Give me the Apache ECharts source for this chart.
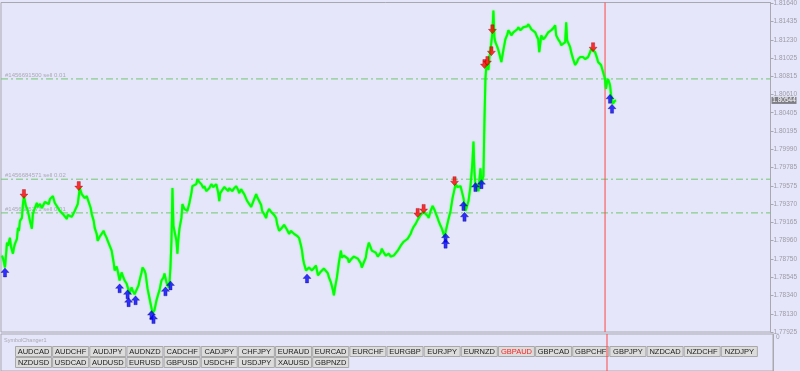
<!DOCTYPE html>
<html><head><meta charset="utf-8">
<script src="https://cdn.jsdelivr.net/npm/echarts@6/dist/echarts.min.js"></script>
<style>html,body{margin:0;padding:0;background:#E6E6FA;overflow:hidden}#c{width:800px;height:371px}</style>
</head><body><div id="c"></div>
<script>
// ---- data ----
const barIndex = [2,3,4,5,6,7,8,10,11,13,14,15,17,18,19,20,22,23,24,25,26,28,30,32,33,35,37,38,40,42,43,45,47,49,50,52,53,55,57,60,62,63,65,67,68,70,72,73,75,77,78,79,80,82,83,85,87,88,89,91,92,94,95,97,98,100,102,104,105,107,108,110,112,114,115,117,118,120,122,123,125,127,129,130,132,133,135,137,139,140,142,143,145,146,148,150,151,153,155,157,159,160,162,164,165,167,169,170,171,172,173,174,175,177,178,179,180,182,183,185,187,188,190,192,193,195,197,198,200,202,204,205,207,208,210,212,214,215,217,218,219,220,221,223,225,227,229,230,232,233,235,237,239,240,242,243,245,247,248,250,252,253,255,257,258,260,262,263,265,267,268,270,272,273,275,277,278,280,282,283,285,287,288,290,292,293,295,297,298,300,302,303,304,305,307,308,310,312,313,315,317,319,320,322,323,325,327,329,330,332,333,334,335,336,338,340,342,343,345,347,349,350,352,353,355,357,359,360,362,363,365,367,368,370,372,373,375,377,379,380,382,383,385,387,389,390,392,393,395,397,399,400,402,403,405,407,409,410,412,413,415,417,419,420,422,423,425,427,429,430,432,434,436,437,439,440,442,443,445,446,448,450,452,454,456,457,459,460,462,463,465,467,468,470,472,473,474,475,476,477,479,480,481,482,483,484,485,486,487,488,489,490,491,492,493,494,495,496,497,499,500,501,502,503,505,507,509,510,512,513,515,517,519,520,522,523,525,527,529,530,532,533,535,537,539,540,541,542,543,545,547,549,550,552,553,555,557,558,560,562,563,565,567,568,569,570,572,573,575,577,579,580,582,583,585,587,589,590,592,593,595,597,599,600,602,603,605,607,608,609,610,611,612,613,614,615,616,617,618];
const closePrice = [1.78789,1.78755,1.78711,1.78654,1.78789,1.78935,1.78901,1.78990,1.78890,1.78811,1.78878,1.78923,1.78979,1.79103,1.79069,1.79182,1.79215,1.79372,1.79462,1.79406,1.79350,1.79294,1.79182,1.79092,1.79260,1.79327,1.79384,1.79339,1.79372,1.79327,1.79350,1.79395,1.79406,1.79372,1.79428,1.79439,1.79462,1.79384,1.79350,1.79294,1.79316,1.79260,1.79238,1.79204,1.79249,1.79260,1.79227,1.79238,1.79294,1.79272,1.79372,1.79462,1.79552,1.79484,1.79462,1.79439,1.79462,1.79428,1.79406,1.79327,1.79260,1.79182,1.79103,1.79035,1.78957,1.79002,1.79013,1.79069,1.79035,1.78990,1.78957,1.78901,1.78845,1.78711,1.78621,1.78666,1.78621,1.78508,1.78599,1.78565,1.78508,1.78474,1.78396,1.78362,1.78429,1.78396,1.78351,1.78362,1.78452,1.78508,1.78599,1.78654,1.78621,1.78587,1.78418,1.78306,1.78250,1.78138,1.78172,1.78284,1.78362,1.78396,1.78508,1.78542,1.78587,1.78486,1.78429,1.78474,1.78654,1.78957,1.79552,1.79126,1.79148,1.78957,1.78811,1.78979,1.79092,1.79215,1.79372,1.79316,1.79327,1.79294,1.79384,1.79496,1.79575,1.79564,1.79597,1.79653,1.79620,1.79597,1.79552,1.79575,1.79518,1.79496,1.79552,1.79597,1.79564,1.79552,1.79597,1.79609,1.79496,1.79406,1.79496,1.79518,1.79564,1.79541,1.79518,1.79552,1.79541,1.79518,1.79552,1.79575,1.79530,1.79496,1.79541,1.79518,1.79484,1.79462,1.79406,1.79372,1.79339,1.79350,1.79428,1.79484,1.79451,1.79439,1.79361,1.79294,1.79260,1.79215,1.79272,1.79316,1.79283,1.79294,1.79249,1.79215,1.79148,1.79069,1.79092,1.79103,1.79137,1.79148,1.79081,1.79035,1.79069,1.79058,1.79035,1.79047,1.79013,1.78990,1.78901,1.78845,1.78755,1.78699,1.78621,1.78599,1.78654,1.78643,1.78621,1.78643,1.78677,1.78565,1.78587,1.78610,1.78621,1.78643,1.78654,1.78587,1.78542,1.78486,1.78508,1.78396,1.78340,1.78418,1.78542,1.78711,1.78845,1.78766,1.78789,1.78811,1.78755,1.78711,1.78744,1.78766,1.78778,1.78789,1.78755,1.78766,1.78699,1.78654,1.78711,1.78766,1.78845,1.78935,1.78878,1.78845,1.78834,1.78823,1.78778,1.78766,1.78823,1.78867,1.78823,1.78789,1.78800,1.78811,1.78778,1.78766,1.78789,1.78811,1.78845,1.78867,1.78901,1.78923,1.78946,1.78957,1.78979,1.78990,1.79035,1.79069,1.79115,1.79148,1.79193,1.79215,1.79249,1.79260,1.79283,1.79294,1.79238,1.79215,1.79294,1.79350,1.79305,1.79272,1.79215,1.79182,1.79126,1.79103,1.79035,1.79002,1.79103,1.79204,1.79294,1.79439,1.79541,1.79597,1.79564,1.79552,1.79575,1.79597,1.79439,1.79294,1.79327,1.79406,1.79575,1.79709,1.79855,1.80080,1.79743,1.79575,1.79541,1.79518,1.79653,1.79776,1.79597,1.79653,1.79687,1.80304,1.80786,1.80956,1.80978,1.80888,1.81034,1.81101,1.81123,1.81314,1.81561,1.81258,1.81202,1.81146,1.81112,1.81068,1.81056,1.80978,1.81112,1.81235,1.81292,1.81337,1.81303,1.81280,1.81314,1.81326,1.81348,1.81371,1.81337,1.81348,1.81371,1.81393,1.81382,1.81405,1.81371,1.81348,1.81337,1.81314,1.81258,1.81235,1.81090,1.81180,1.81280,1.81235,1.81258,1.81280,1.81314,1.81326,1.81337,1.81360,1.81393,1.81280,1.81235,1.81202,1.81168,1.81180,1.81202,1.81427,1.81224,1.81202,1.81146,1.81090,1.81011,1.80944,1.80978,1.81011,1.81034,1.81056,1.81034,1.81011,1.81023,1.81034,1.81090,1.81123,1.81123,1.81090,1.81023,1.80978,1.80956,1.80944,1.80865,1.80786,1.80674,1.80753,1.80786,1.80753,1.80719,1.80607,1.80551,1.80507,1.80529,1.80540,1.80544];

const buyBars   = [5,120,128,129,136,152,154,166,171,308,447,447,465,466,477,483,612,614];
const buyPrices = [1.78598,1.78419,1.78351,1.78262,1.78284,1.78116,1.78071,1.78385,1.78452,1.78531,1.78991,1.78924,1.79350,1.79227,1.79564,1.79597,1.80562,1.80450];
const sellBars   = [24,79,419,425,456,486,489,493,494,595];
const sellPrices = [1.79485,1.79575,1.79272,1.79317,1.79631,1.80955,1.80989,1.81101,1.81348,1.81146];

const orderLinePrices = [1.80787, 1.79653, 1.79272];
const orderLineLabels = ['#1456691500 sell 0.01', '#1456684571 sell 0.02', '#1456685271 sell 0.01'];
const currentPrice = 1.80544;
const markerBar = 607;
const priceTicks = [1.81640,1.81435,1.81230,1.81025,1.80815,1.80610,1.80405,1.80195,1.79990,1.79785,1.79575,1.79370,1.79165,1.78960,1.78750,1.78545,1.78340,1.78130,1.77925];
const symbolsRow1 = ['AUDCAD','AUDCHF','AUDJPY','AUDNZD','CADCHF','CADJPY','CHFJPY','EURAUD','EURCAD','EURCHF','EURGBP','EURJPY','EURNZD','GBPAUD','GBPCAD','GBPCHF','GBPJPY','NZDCAD','NZDCHF','NZDJPY'];
const symbolsRow2 = ['NZDUSD','USDCAD','AUDUSD','EURUSD','GBPUSD','USDCHF','USDJPY','XAUUSD','GBPNZD'];
const activeSymbol = 'GBPAUD';
const indicatorName = 'SymbolChanger1';

// ---- chart ----
const chart = echarts.init(document.getElementById('c'), null, {renderer: 'canvas'});
const axisGrey = '#9a9aa6';
const font = 'Liberation Sans, Arial, sans-serif';
const upArrow = 'path://M4,0 L8,4.5 L5.6,4.5 L5.6,9 L2.4,9 L2.4,4.5 L0,4.5 Z';
const downArrow = 'path://M2.4,0 L5.6,0 L5.6,4.5 L8,4.5 L4,9 L0,4.5 L2.4,4.5 Z';
const xMin = 1, xMax = 773, yMin = 1.77925, yMax = 1.81651;

const btnLeft = 15, btnPitch = 37.15, btnW = 36, btnH = 10, rowTops = [346, 357];
const graphics = [{type:'text', x: 4, y: 337, style:{text: indicatorName, fontSize: 5.5, fill:'#a8a8b4', fontFamily: font}}];
[symbolsRow1, symbolsRow2].forEach((row, r) => {
  row.forEach((s, i) => {
    graphics.push({type:'group', x: btnLeft + i*btnPitch, y: rowTops[r], children:[
      {type:'rect', shape:{x:0.5,y:0.5,width:btnW,height:btnH}, style:{fill:'#DCDCDC', stroke:'#A8A8A8', lineWidth:1}},
      {type:'text', style:{x: btnW/2+0.5, y: btnH/2+1, text: s, align:'center', verticalAlign:'middle', fontSize: 7.5, fontFamily: font, fill: s === activeSymbol ? '#FF2020' : '#202020'}}
    ]});
  });
});

const orderLineSeries = orderLinePrices.map(p => ({
  type:'line', xAxisIndex:0, yAxisIndex:0, data:[[xMin, p],[xMax, p]], showSymbol:false, symbol:'none',
  silent:true, z:2, lineStyle:{color:'#70C870', type:[7,3,2,3], width:1}
}));

const option = {
  animation: false,
  backgroundColor: '#E6E6FA',
  grid: [
    {left: 1, right: 27, top: 0, height: 332, show: true, borderColor: '#A8A8B0', borderWidth: 1, backgroundColor: 'transparent'},
    {left: 1, right: 27, top: 334, height: 37, show: true, borderColor: '#A8A8B0', borderWidth: 1, backgroundColor: 'transparent'}
  ],
  xAxis: [
    {type:'value', gridIndex:0, min:xMin, max:xMax, show:false},
    {type:'value', gridIndex:1, min:xMin, max:xMax, show:false}
  ],
  yAxis: [
    {type:'value', gridIndex:0, position:'right', min:yMin, max:yMax,
     axisLine:{show:true, lineStyle:{color:'#A8A8B0'}},
     axisTick:{show:true, length:3, customValues: priceTicks, lineStyle:{color:'#A8A8B0'}},
     axisLabel:{show:true, customValues: priceTicks, formatter: v => v.toFixed(5), color: axisGrey, fontSize: 6.5, fontFamily: font, margin: 3},
     splitLine:{show:false}},
    {type:'value', gridIndex:1, position:'right', min:-0.1, max:1, inverse:true,
     axisLine:{show:true, lineStyle:{color:'#A8A8B0'}},
     axisTick:{show:false},
     axisLabel:{show:true, customValues:[0], formatter: v => String(v), color: axisGrey, fontSize: 6.5, fontFamily: font, margin: 3},
     splitLine:{show:false}}
  ],
  series: [
    ...orderLineSeries,
    {type:'scatter', xAxisIndex:0, yAxisIndex:0, silent:true, z:2,
     data: orderLinePrices.map(p => [xMin, p]), symbolSize:0.01, itemStyle:{color:'rgba(0,0,0,0)'},
     label:{show:true, position:[4,-7], formatter: p => orderLineLabels[p.dataIndex], color:'#9a9aa6', fontSize:6, fontFamily: font}},
    {type:'line', xAxisIndex:0, yAxisIndex:0, data:[[markerBar, yMin],[markerBar, yMax]], showSymbol:false, symbol:'none',
     silent:true, z:2, lineStyle:{color:'#FF4848', width:1}},
    {type:'line', xAxisIndex:1, yAxisIndex:1, data:[[markerBar, -0.1],[markerBar, 1]], showSymbol:false, symbol:'none',
     silent:true, z:2, lineStyle:{color:'#FF4848', width:1}},
    {type:'line', name:'price', xAxisIndex:0, yAxisIndex:0, data: barIndex.map((b,i)=>[b, closePrice[i]]),
     showSymbol:false, symbol:'none', lineStyle:{color:'#00FF00', width:2, shadowBlur:2, shadowColor:'rgba(0,255,0,0.8)'}, z:3,
     markPoint:{silent:true, animation:false,
       data:[{coord:[xMax, currentPrice], symbol:'rect', symbolSize:[25,7], symbolOffset:[13.5,0],
              itemStyle:{color:'#7E7E86'},
              label:{show:true, position:'inside', formatter: () => currentPrice.toFixed(5), color:'#FFFFFF', fontSize:6.5, fontFamily: font}}]}},
    {type:'scatter', xAxisIndex:0, yAxisIndex:0, data: buyBars.map((b,i)=>[b, buyPrices[i]]),
     symbol: upArrow, symbolSize:[8,9], itemStyle:{color:'#0000FF', borderColor:'#000060', borderWidth:0.4}, z:5},
    {type:'scatter', xAxisIndex:0, yAxisIndex:0, data: sellBars.map((b,i)=>[b, sellPrices[i]]),
     symbol: downArrow, symbolSize:[8,9], itemStyle:{color:'#FF0000', borderColor:'#800000', borderWidth:0.4}, z:5}
  ],
  graphic: graphics
};
chart.setOption(option);
</script>
</body></html>
